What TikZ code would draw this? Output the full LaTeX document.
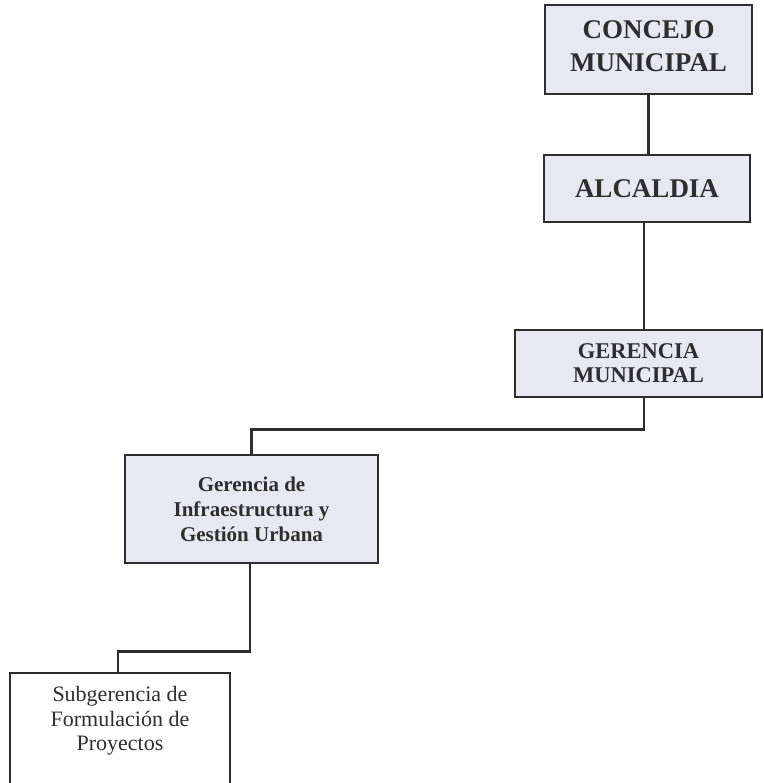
\documentclass[tikz,border=0pt]{standalone}
\usepackage{fontspec}
\setmainfont{Liberation Serif}
\usetikzlibrary{calc}
\definecolor{boxfill}{HTML}{E8E8F2}
\definecolor{ink}{HTML}{2E2E2E}
\begin{document}
\begin{tikzpicture}[x=1pt,y=-1pt,
  unit/.style={draw=ink,line width=2.8pt,fill=boxfill,text=ink,align=center,
    inner sep=0pt,font=\bfseries},
  plainunit/.style={unit,fill=white,font=\normalfont},
  link/.style={draw=ink,line width=2.4pt}]
\useasboundingbox (0,0) rectangle (763,783);
\clip (0,0) rectangle (763,783);
% boxes of the organisation chart
\node[unit,minimum width=207pt,minimum height=89pt,
  label={[text=ink,align=center,inner sep=0pt,yshift=3pt,
    font=\bfseries\fontsize{27}{33}\selectfont]center:CONCEJO\\MUNICIPAL}]
  (con) at (648.5,49.5) {};
\node[unit,minimum width=206pt,minimum height=67pt,
  font=\bfseries\fontsize{27}{33}\selectfont] (alc) at (647,188.5)
  {ALCALDIA};
\node[unit,minimum width=247pt,minimum height=67pt,
  font=\bfseries\fontsize{22.5}{24}\selectfont] (ger) at (638.5,363.5)
  {GERENCIA\\MUNICIPAL};
\node[unit,minimum width=253pt,minimum height=108pt,
  font=\bfseries\fontsize{21}{25}\selectfont] (inf) at (251.5,509)
  {Gerencia de\\Infraestructura y\\Gestión Urbana};
\node[plainunit,minimum width=220pt,minimum height=150pt,
  font=\fontsize{22}{24.5}\selectfont] (sub) at (120,748)
  {Subgerencia de\\Formulación de\\Proyectos\\[34pt]};
% connectors
\draw[link] (con.south) -- (con.south |- alc.north);
\draw[link] (alc.south -| 644,0) -- (ger.north -| 644,0);
\draw[link] (ger.south -| 644,0) -- ++(0,31) -| (inf.north);
\draw[link] (inf.south -| 250,0) -- ++(0,87) -| (sub.north -| 118,0);
\end{tikzpicture}
\end{document}
